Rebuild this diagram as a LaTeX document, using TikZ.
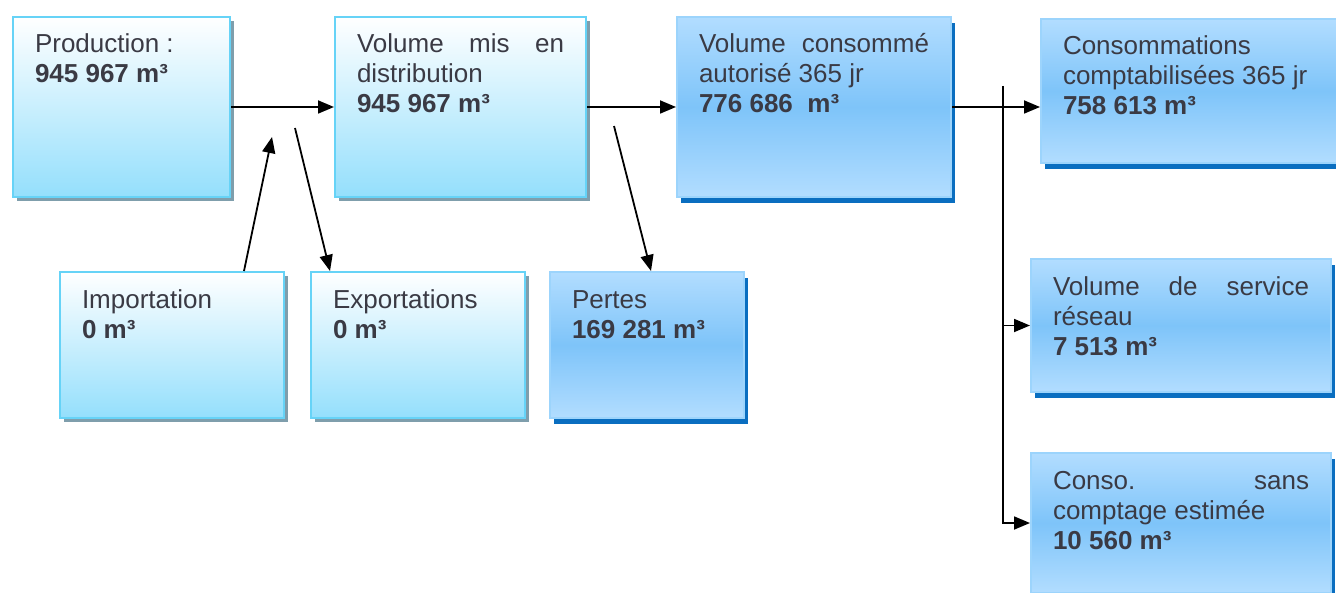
\documentclass[tikz,border=0pt]{standalone}
\usepackage{fontspec}
\setmainfont{Liberation Sans}
\usepackage{tikz}
\usetikzlibrary{arrows.meta,positioning,shadows}
\hyphenpenalty=10000
\tolerance=10000
\hbadness=10000
\definecolor{cInk}{HTML}{3A3A44}
\definecolor{cCyanLine}{HTML}{66D3F7}
\definecolor{cCyanLow}{HTML}{94DFFC}
\definecolor{cGreyShd}{HTML}{7F9EAC}
\definecolor{cBlueLine}{HTML}{9CD4FC}
\definecolor{cBlueTop}{HTML}{B2DDFF}
\definecolor{cBlueMid}{HTML}{7EC4F9}
\definecolor{cBlueShd}{HTML}{0A6EC0}
\tikzset{
  >={Triangle[length=8pt,width=6.5pt]},
  box/.style   ={anchor=north west,line width=1pt,inner xsep=11pt,inner ysep=8.5pt,
                 align=justify,text height=9.5pt,text=cInk,font=\fontsize{13}{15}\selectfont},
  lbox/.style  ={box,draw=cCyanLine,top color=white,bottom color=cCyanLow,
                 drop shadow={shadow xshift=2pt,shadow yshift=-2pt,fill=cGreyShd,opacity=1}},
  dbox/.style  ={box,draw=cBlueLine,top color=cBlueTop,bottom color=cBlueTop,middle color=cBlueMid,
                 drop shadow={shadow xshift=2pt,shadow yshift=-3pt,fill=cBlueShd,opacity=1}},
  dims/.style 2 args={text width=#1,text depth=#2},
  ar/.style    ={->,line width=0.9pt,black},
}
\begin{document}
\begin{tikzpicture}[x=0.5pt,y=-0.5pt]
\useasboundingbox (0,0) rectangle (1336,593);
% top row
\node[lbox,dims={86.5pt}{63.5pt}] (prod) at (12,16) {Production :\\ \textbf{945 967 m³}};
\node[lbox,dims={103.5pt}{63.5pt}] (vol) at (334,16) {Volume mis en distribution\\ \textbf{945 967 m³}};
\node[dbox,dims={115pt}{63.5pt}] (cons) at (676,16) {Volume consommé autorisé 365 jr\\ \textbf{776 686~ m³}};
\node[dbox,dims={134pt}{45.5pt}] (compt) at (1040,18) {Consommations\\ comptabilisées 365 jr\\ \textbf{758 613 m³}};
% second row
\node[lbox,dims={90pt}{46.5pt}] (imp) at (59,271) {Importation\\ \textbf{0 m³}};
\node[lbox,dims={85pt}{46.5pt}] (exp) at (310,271) {Exportations\\ \textbf{0 m³}};
\node[dbox,dims={75pt}{46.5pt}] (pert) at (549,271) {Pertes\\ \textbf{169 281 m³}};
\node[dbox,dims={128pt}{40pt}] (serv) at (1030,258) {Volume de service réseau\\ \textbf{7 513 m³}};
\node[dbox,dims={128pt}{43.5pt}] (conso) at (1030,452) {Conso. sans comptage estimée\\ \textbf{10 560 m³}};
% free ends
\coordinate (impEnd) at (272,137);
\coordinate (expStart) at (295,128);
\coordinate (lossStart) at (614,126);
\coordinate (busTop) at (1003,86);
% arrows
\draw[ar] (prod.east) -- (vol.west);
\draw[ar] (vol.east) -- (cons.west);
\draw[ar] ([xshift=36pt]imp.north) -- (impEnd);
\draw[ar] (expStart) -- ([xshift=10pt]exp.north west);
\draw[ar] (lossStart) -- ([xshift=2pt]pert.north);
\draw[ar] (cons.east) -- (cons.east -| compt.west);
\draw[ar] (busTop) |- (conso.west);
\draw[ar] (busTop |- serv.west) -- (serv.west);
\end{tikzpicture}
\end{document}
